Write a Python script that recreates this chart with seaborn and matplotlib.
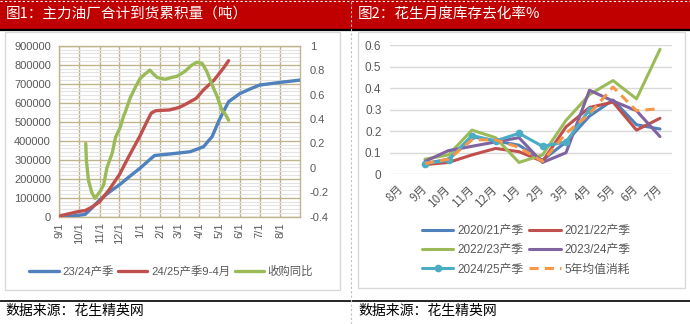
import numpy as np
import pandas as pd
import matplotlib
matplotlib.use("Agg")
import matplotlib.pyplot as plt
from matplotlib.lines import Line2D
from matplotlib.patches import Rectangle
from matplotlib.ticker import MultipleLocator
import seaborn as sns

sns.set_theme(style="white")
plt.rcParams['font.family'] = ['Liberation Sans', 'Noto Sans CJK SC', 'DejaVu Sans']
plt.rcParams['axes.unicode_minus'] = False

# ---------------- data: chart 1 ----------------
blue_dates = ["2024-09-01", "2024-09-20", "2024-10-01", "2024-10-10", "2024-10-20", "2024-11-01",
              "2024-11-15", "2024-12-01", "2024-12-15", "2025-01-01", "2025-01-15", "2025-01-23",
              "2025-02-15", "2025-03-18", "2025-04-07", "2025-04-20", "2025-05-01", "2025-05-15",
              "2025-06-01", "2025-06-15", "2025-07-01", "2025-08-01", "2025-08-31"]
blue_vals = [0, 3000, 8000, 12000, 45000, 88000, 128000, 168000, 208000, 255000, 298000, 322000,
             330000, 342000, 368000, 421000, 510000, 605000, 648000, 670000, 693000, 707000, 719000]

red_dates = ["2024-09-01", "2024-09-15", "2024-10-01", "2024-10-10", "2024-10-20", "2024-11-01",
             "2024-11-15", "2024-12-01", "2024-12-15", "2025-01-01", "2025-01-10", "2025-01-18",
             "2025-01-25", "2025-02-15", "2025-03-01", "2025-03-10", "2025-03-27", "2025-04-07",
             "2025-04-23", "2025-05-07", "2025-05-15"]
red_vals = [3000, 15000, 28000, 32000, 50000, 79000, 140000, 222000, 316000, 425000, 490000, 545000,
            558000, 562000, 575000, 590000, 623000, 667000, 719000, 781000, 821000]

green_dates = ["2024-10-11", "2024-10-12", "2024-10-15", "2024-10-20", "2024-10-25", "2024-11-02",
               "2024-11-07", "2024-11-12", "2024-11-20", "2024-11-25", "2024-12-02", "2024-12-07",
               "2024-12-10", "2024-12-17", "2024-12-25", "2025-01-01", "2025-01-09", "2025-01-16",
               "2025-01-21", "2025-01-27", "2025-02-08", "2025-02-18", "2025-02-26", "2025-03-10",
               "2025-03-20", "2025-03-28", "2025-04-05", "2025-04-12", "2025-04-20", "2025-04-28",
               "2025-05-05", "2025-05-10", "2025-05-15"]
green_vals = [0.20, 0.06, -0.10, -0.20, -0.25, -0.19, -0.14, 0.00, 0.12, 0.25, 0.33, 0.42,
              0.46, 0.57, 0.66, 0.73, 0.77, 0.80, 0.77, 0.74, 0.725, 0.74, 0.75, 0.79,
              0.84, 0.865, 0.855, 0.79, 0.68, 0.58, 0.47, 0.44, 0.39]

left_names = ["23/24产季", "24/25产季9-4月", "收购同比"]
month_ticks = ["2024-09-01", "2024-10-01", "2024-11-01", "2024-12-01", "2025-01-01", "2025-02-01",
               "2025-03-01", "2025-04-01", "2025-05-01", "2025-06-01", "2025-07-01", "2025-08-01"]
month_tick_labels = ["9/1", "10/1", "11/1", "12/1", "1/1", "2/1", "3/1", "4/1", "5/1", "6/1", "7/1", "8/1"]

# ---------------- data: chart 2 ----------------
months = ["8月", "9月", "10月", "11月", "12月", "1月", "2月", "3月", "4月", "5月", "6月", "7月"]
s2021 = [None, 0.05, 0.07, 0.175, 0.155, 0.135, 0.065, 0.15, 0.27, 0.345, 0.23, 0.21]
s2122 = [None, 0.045, 0.055, 0.09, 0.12, 0.105, 0.06, 0.22, 0.31, 0.335, 0.205, 0.26]
s2223 = [None, 0.07, 0.09, 0.205, 0.17, 0.055, 0.09, 0.25, 0.37, 0.435, 0.35, 0.58]
s2324 = [None, 0.06, 0.11, 0.13, 0.15, 0.17, 0.055, 0.10, 0.39, 0.34, 0.295, 0.175]
s2425 = [None, 0.05, 0.065, 0.18, 0.155, 0.19, 0.13, 0.15, 0.30, None, None, None]
s5avg = [None, 0.05, 0.07, 0.16, 0.16, 0.125, 0.06, 0.19, 0.28, 0.405, 0.295, 0.305]
right_names = ["2020/21产季", "2021/22产季", "2022/23产季", "2023/24产季", "2024/25产季", "5年均值消耗"]

C_BLUE, C_RED, C_GREEN, C_PURPLE, C_AQUA, C_ORANGE = "#4F81BD", "#C0504D", "#9BBB59", "#8064A2", "#4BACC6", "#F79646"
TXT = "#595959"
TAN = "#BFB58C"
CJK = ['Noto Sans CJK SC', 'DejaVu Sans']

W, H = 690, 324
fig = plt.figure(figsize=(W / 100, H / 100), dpi=100)


def fx(px):
    return px / W


def fy(py):
    return 1 - py / H


# ---------------- background decorations ----------------
fig.patches.append(Rectangle((0, fy(28.5)), 1, 28.5 / H, transform=fig.transFigure,
                             facecolor="#C00000", edgecolor="none", zorder=-5))
fig.lines.append(Line2D([0, 1], [fy(1.2), fy(1.2)], transform=fig.transFigure, color="white",
                        lw=0.8, ls=(0, (2, 2)), zorder=-4))
fig.lines.append(Line2D([0, 1], [fy(29.5), fy(29.5)], transform=fig.transFigure, color="black", lw=1.6, zorder=-4))
fig.lines.append(Line2D([0, 1], [fy(301), fy(301)], transform=fig.transFigure, color="black", lw=1.2, zorder=-4))
fig.lines.append(Line2D([fx(351), fx(351)], [0, 1], transform=fig.transFigure, color="#BFBFBF",
                        lw=0.8, ls=(0, (2, 2)), zorder=-4))
fig.patches.append(Rectangle((fx(5), fy(290)), (340 - 5) / W, (290 - 32) / H, transform=fig.transFigure,
                             facecolor="none", edgecolor="#D9D9D9", lw=1, zorder=-4))
fig.patches.append(Rectangle((fx(358), fy(288)), (685 - 358) / W, (288 - 32) / H, transform=fig.transFigure,
                             facecolor="none", edgecolor="#D9D9D9", lw=1, zorder=-4))

fig.text(fx(6), fy(14), "图1：主力油厂合计到货累积量（吨）", color="white", fontsize=10.5,
         family=CJK, va="center", ha="left")
fig.text(fx(358), fy(14), "图2：花生月度库存去化率%", color="white", fontsize=10.5,
         family=CJK, va="center", ha="left")
fig.text(fx(5), fy(311), "数据来源：花生精英网", color="black", fontsize=10, family=CJK, va="center", ha="left")
fig.text(fx(358), fy(311), "数据来源：花生精英网", color="black", fontsize=10, family=CJK, va="center", ha="left")

# ---------------- chart 1 ----------------
ax1 = fig.add_axes([fx(59.3), fy(216.7), (300 - 59.3) / W, (216.7 - 45.7) / H])
ax1.patch.set_visible(False)
ax1b = ax1.twinx()

df_blue = pd.DataFrame({"date": pd.to_datetime(blue_dates), "v": blue_vals})
df_red = pd.DataFrame({"date": pd.to_datetime(red_dates), "v": red_vals})
df_green = pd.DataFrame({"date": pd.to_datetime(green_dates), "v": green_vals})

sns.lineplot(data=df_blue, x="date", y="v", ax=ax1, color=C_BLUE, lw=2.4, legend=False, zorder=3)
sns.lineplot(data=df_red, x="date", y="v", ax=ax1, color=C_RED, lw=2.4, legend=False, zorder=3)
sns.lineplot(data=df_green, x="date", y="v", ax=ax1b, color=C_GREEN, lw=2.4, legend=False, zorder=3)

ax1.set_xlim(pd.Timestamp("2024-09-01"), pd.Timestamp("2025-08-31"))
ax1.set_ylim(0, 900000)
ax1b.set_ylim(-0.4, 1.0)
ax1.set_yticks(np.arange(0, 900001, 100000))
ax1.yaxis.set_minor_locator(MultipleLocator(20000))
rt = np.round(np.arange(-0.4, 1.01, 0.2), 1)
ax1b.set_yticks(rt)
ax1b.set_yticklabels([f"{v:g}" for v in rt])
ax1.set_xticks(pd.to_datetime(month_ticks))
ax1.set_xticklabels(month_tick_labels, rotation=90, ha="center", va="top")
ax1.set_xlabel("")
ax1.set_ylabel("")
ax1b.set_ylabel("")
ax1.yaxis.grid(True, which="minor", color="#E3E3E3", lw=0.8)
ax1.yaxis.grid(True, which="major", color=TAN, lw=1.0)
ax1.xaxis.grid(True, which="major", color=TAN, lw=1.0)
ax1.set_axisbelow(True)
for s in ax1b.spines.values():
    s.set_visible(False)
for s in ax1.spines.values():
    s.set_visible(True)
    s.set_color(TAN)
    s.set_linewidth(1.0)
ax1.tick_params(axis="y", which="both", length=0, pad=6, labelsize=8, labelcolor=TXT)
ax1.tick_params(axis="x", length=0, pad=4, labelsize=8, labelcolor=TXT)
ax1b.tick_params(axis="y", length=0, pad=7, labelsize=8, labelcolor=TXT)

h1 = [Line2D([], [], color=C_BLUE, lw=2.4), Line2D([], [], color=C_RED, lw=2.4),
      Line2D([], [], color=C_GREEN, lw=2.4)]
leg1 = fig.legend(h1, left_names, loc="center", bbox_to_anchor=(fx(171), fy(271)), ncol=3,
                  frameon=False, fontsize=8.2, handlelength=2.6, handletextpad=0.3, columnspacing=0.4,
                  borderpad=0)
for t in leg1.get_texts():
    t.set_color(TXT)

# ---------------- chart 2 ----------------
ax2 = fig.add_axes([fx(389.75), fy(174.3), (671.75 - 389.75) / W, (174.3 - 45) / H])
ax2.patch.set_visible(False)
rows = []
for name, vals in zip(right_names, [s2021, s2122, s2223, s2324, s2425, s5avg]):
    for m, v in zip(months, vals):
        if v is not None:
            rows.append({"series": name, "pos": months.index(m), "v": v})
df2 = pd.DataFrame(rows)
palette = dict(zip(right_names, [C_BLUE, C_RED, C_GREEN, C_PURPLE, C_AQUA, C_ORANGE]))
for name in right_names[:4]:
    sns.lineplot(data=df2[df2.series == name], x="pos", y="v", ax=ax2, color=palette[name],
                 lw=2.2, legend=False)
sns.lineplot(data=df2[df2.series == right_names[4]], x="pos", y="v", ax=ax2, color=C_AQUA,
             lw=2.2, marker="o", markersize=5.5, markeredgewidth=0, legend=False)
sns.lineplot(data=df2[df2.series == right_names[5]], x="pos", y="v", ax=ax2, color=C_ORANGE,
             lw=2.2, legend=False)
ax2.lines[-1].set_linestyle((0, (3, 2)))

ax2.set_xlim(-0.5, len(months) - 0.5)
ax2.set_ylim(0, 0.6)
yt = np.round(np.arange(0, 0.61, 0.1), 1)
ax2.set_yticks(yt)
ax2.set_yticklabels([f"{v:g}" for v in yt])
ax2.set_xticks(range(len(months)))
ax2.set_xticklabels(months, rotation=45, ha="right", va="center", rotation_mode="anchor", family=CJK)
ax2.set_xlabel("")
ax2.set_ylabel("")
ax2.yaxis.grid(True, color="#D9D9D9", lw=1)
ax2.xaxis.grid(False)
ax2.set_axisbelow(True)
for s in ax2.spines.values():
    s.set_visible(False)
ax2.tick_params(axis="y", length=0, pad=6, labelsize=8.5, labelcolor=TXT)
ax2.tick_params(axis="x", length=0, pad=9, labelsize=8.5, labelcolor=TXT)

h2 = [Line2D([], [], color=C_BLUE, lw=2.2), Line2D([], [], color=C_RED, lw=2.2),
      Line2D([], [], color=C_GREEN, lw=2.2), Line2D([], [], color=C_PURPLE, lw=2.2),
      Line2D([], [], color=C_AQUA, lw=2.2, marker="o", markersize=5.5, markeredgewidth=0),
      Line2D([], [], color=C_ORANGE, lw=2.2, ls=(0, (3, 2)))]
order = [0, 2, 4, 1, 3, 5]
leg2 = fig.legend([h2[i] for i in order], [right_names[i] for i in order], loc="center",
                  bbox_to_anchor=(fx(526), fy(250.5)), ncol=2, frameon=False, fontsize=8.5,
                  handlelength=2.7, handletextpad=0.3, columnspacing=0.5, labelspacing=0.6, borderpad=0)
for t in leg2.get_texts():
    t.set_color(TXT)

fig.savefig("out.png", dpi=100)
